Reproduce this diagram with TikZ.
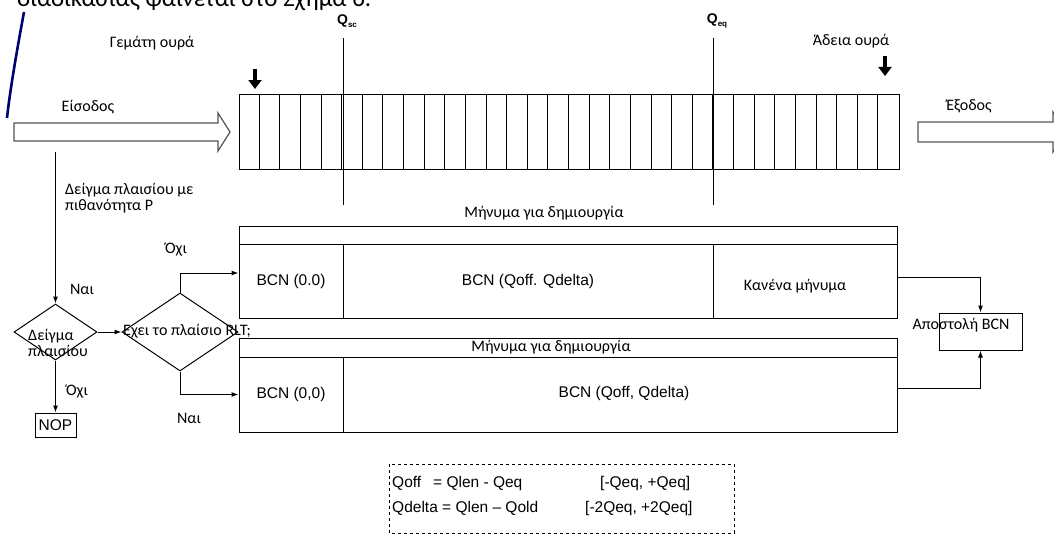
\documentclass[tikz,border=0pt]{standalone}
\usepackage{fontspec}
\setmainfont{Carlito}
\newfontfamily\arialfont{Liberation Sans}
\usetikzlibrary{arrows.meta,shapes.geometric}

\begin{document}
\begin{tikzpicture}[x=1pt,y=-1pt]
\tikzset{
  lbl/.style={font=\fontsize{16}{16}\selectfont,inner sep=0pt},
  arl/.style={font=\arialfont\fontsize{15.5}{17}\selectfont,inner sep=0pt},
  qlbl/.style={font=\arialfont\bfseries\fontsize{14}{16}\selectfont,inner sep=0pt},
  box/.style={draw,line width=1pt,inner sep=0pt},
  decision/.style={diamond,draw,line width=1pt,inner sep=0pt},
  flow/.style={-{Latex[length=7pt,width=5pt]},line width=1pt},
  bigdown/.style={-{Triangle[length=9pt,width=13pt]},line width=3.2pt},
  hollow/.style={draw=gray!65!black,line width=1.2pt,fill=white},
  qline/.style={line width=1pt}
}
\useasboundingbox (0,0) rectangle (1054,535);
% cut-off text and margin line
\node[font=\fontsize{25}{28}\selectfont,anchor=base west,inner sep=0pt] (n_top) at (17,7) {διαδικασίας φαίνεται στο Σχήμα 6.};
\draw[line width=2.6pt,color=blue!45!black] (24,12) .. controls (17,50) and (10,90) .. (7,118);
% input / output arrows
\draw[hollow] (14,123) -- (218,123) -- (218,113) -- (230,132) -- (218,151) -- (218,141) -- (14,141) -- cycle;
\draw[hollow] (918,122) -- (1053,122) -- (1053,112) -- (1067,132) -- (1053,152) -- (1053,142) -- (918,142) -- cycle;
\node[lbl] (n_in) at (88,107) {Είσοδος};
\node[lbl] (n_out) at (969,106) {Έξοδος};
% queue
\node[box,minimum width=660pt,minimum height=75pt] (n_queue) at (569,131.5) {};
\foreach \i in {1,...,31}
  \draw[qline] ([xshift=\i*20.625pt]n_queue.north west) -- ([xshift=\i*20.625pt]n_queue.south west);
\node[lbl] (n_full) at (152,43) {Γεμάτη ουρά};
\node[lbl] (n_empty) at (851,41) {Άδεια ουρά};
\coordinate (k_full) at (255,69);
\coordinate (k_empty) at (885,56);
\draw[bigdown] (k_full) -- ++(0,20);
\draw[bigdown] (k_empty) -- ++(0,20);
\node[qlbl] (n_qsc) at (347,21) {Q\raisebox{-0.4ex}{\fontsize{8}{9}\selectfont sc}};
\node[qlbl] (n_qeq) at (717,21) {Q\raisebox{-0.4ex}{\fontsize{8}{9}\selectfont eq}};
\draw[qline] (343,38) -- (343,205);
\draw[qline] (713,38) -- (713,205);
% upper message table
\node[lbl] (n_msg1) at (544,213) {Μήνυμα για δημιουργία};
\node[box,minimum width=658pt,minimum height=18pt] (n_h1) at (568,235) {};
\node[box,minimum width=104pt,minimum height=74pt,arl] (n_b1a) at (291,281) {BCN (0.0)};
\node[box,minimum width=370pt,minimum height=74pt,arl] (n_b1b) at (528,281) {BCN (Qoff. Qdelta)};
\node[box,minimum width=184pt,minimum height=74pt] (n_b1c) at (805,281) {};
\node[lbl] (n_none) at (795,286) {Κανένα μήνυμα};
% lower message table
\node[box,minimum width=658pt,minimum height=19pt] (n_h2) at (568,347.5) {};
\node[lbl] (n_msg2) at (551,347) {Μήνυμα για δημιουργία};
\node[box,minimum width=104pt,minimum height=75pt,arl] (n_b2a) at (291,394.5) {BCN (0,0)};
\node[box,minimum width=554pt,minimum height=75pt] (n_b2b) at (620,394.5) {};
\node[arl] (n_b2t) at (624,393) {BCN (Qoff, Qdelta)};
% decisions
\coordinate (k_start) at (55.5,152);
\node[decision,minimum width=83pt,minimum height=56pt] (n_d1) at (55.5,332) {};
\node[lbl,align=left] (n_d1t) at (58,343) {Δείγμα\\πλαισίου};
\node[decision,minimum width=116pt,minimum height=78pt] (n_d2) at (180,332) {};
\node[lbl,anchor=west] (n_d2t) at (123,331) {Εχει το πλαίσιο RLT;};
\node[box,minimum width=41pt,minimum height=24pt,arl] (n_nop) at (55.5,425) {NOP};
\node[lbl,align=left,anchor=north west] (n_sample) at (65,183) {Δείγμα πλαισίου με\\πιθανότητα P};
\node[lbl] (n_yes1) at (82,289) {Ναι};
\node[lbl] (n_no1) at (77,392) {Όχι};
\node[lbl] (n_no2) at (176,250) {Όχι};
\node[lbl] (n_yes2) at (189,418) {Ναι};
% send
\node[box,minimum width=83pt,minimum height=37pt] (n_send) at (980.5,331.5) {};
\node[lbl] (n_sendt) at (961,325) {Αποστολή BCN};
% connectors
\draw[flow] (k_start) -- (n_d1.north);
\draw[flow] (n_d1.east) -- (n_d2.west);
\draw[flow] (n_d1.south) -- (n_nop.north);
\draw[flow] (n_d2.north) |- ([yshift=8pt]n_b1a.west);
\draw[flow] (n_d2.south) |- (n_b2a.west);
\draw[flow] ([yshift=4pt]n_b1c.east) -| (n_send.north);
\draw[flow] ([yshift=6.5pt]n_b2b.east) -| (n_send.south);
% legend
\draw[dashed,line width=0.8pt] (389,464) rectangle (734,533);
\node[arl,anchor=west] (n_l1a) at (392,483) {Qoff};
\node[arl,anchor=west] (n_l1b) at (433,483) {= Qlen - Qeq};
\node[arl,anchor=west] (n_l1c) at (600,483) {[-Qeq, +Qeq]};
\node[arl,anchor=west] (n_l2a) at (392,508) {Qdelta = Qlen – Qold};
\node[arl,anchor=west] (n_l2c) at (585,508) {[-2Qeq, +2Qeq]};
\end{tikzpicture}
\end{document}
